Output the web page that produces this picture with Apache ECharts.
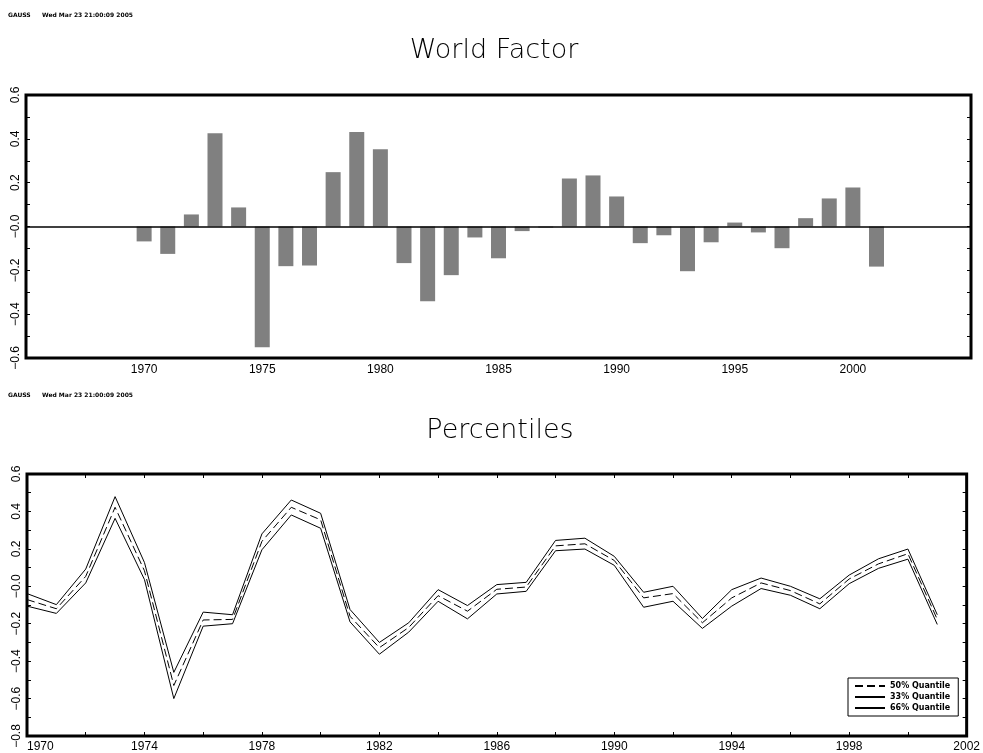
<!DOCTYPE html>
<html><head><meta charset="utf-8">
<script src="https://cdn.jsdelivr.net/npm/echarts@6/dist/echarts.min.js"></script>
<style>html,body{margin:0;padding:0;background:#fff}#c{width:983px;height:753px}</style>
</head><body><div id="c"></div>
<script>
// ---- data ----
const barYears = [1970,1971,1972,1973,1974,1975,1976,1977,1978,1979,1980,1981,1982,1983,1984,1985,
                  1986,1987,1988,1989,1990,1991,1992,1993,1994,1995,1996,1997,1998,1999,2000,2001];
const worldFactor = [-0.068,-0.125,0.055,0.426,0.087,-0.551,-0.181,-0.178,0.248,0.431,0.352,-0.167,-0.341,-0.222,-0.050,-0.145,
                     -0.021,-0.005,0.219,0.233,0.137,-0.076,-0.040,-0.204,-0.072,0.018,-0.027,-0.099,0.038,0.128,0.178,-0.183];
const pctYears = barYears;
const q66 = [-0.039,-0.098,0.092,0.479,0.127,-0.460,-0.138,-0.152,0.280,0.461,0.390,-0.124,-0.300,-0.195,-0.018,-0.103,
             0.009,0.021,0.245,0.257,0.160,-0.032,0.000,-0.172,-0.018,0.044,0.000,-0.067,0.060,0.147,0.199,-0.152];
const q50 = [-0.071,-0.120,0.053,0.422,0.083,-0.530,-0.180,-0.177,0.240,0.422,0.355,-0.160,-0.328,-0.220,-0.050,-0.133,
             -0.016,-0.004,0.216,0.227,0.138,-0.062,-0.039,-0.195,-0.062,0.018,-0.023,-0.094,0.039,0.120,0.174,-0.177];
const q33 = [-0.106,-0.145,0.018,0.363,0.036,-0.600,-0.213,-0.200,0.195,0.381,0.310,-0.190,-0.363,-0.245,-0.080,-0.174,
             -0.041,-0.027,0.190,0.199,0.112,-0.112,-0.080,-0.225,-0.106,-0.012,-0.048,-0.120,0.014,0.096,0.145,-0.204];
const seriesNames = ['50% Quantile','33% Quantile','66% Quantile'];
const titles = ['World Factor','Percentiles'];
const stamp = ['GAUSS', 'Wed Mar 23 21:00:09 2005'];

// ---- chart ----
const zip = (xs, ys) => xs.map((x, i) => [x, ys[i]]);
const fmtY = v => {
  const r = Math.round(v * 10) / 10;
  if (Math.abs(r) < 1e-9) return '\u22120.0';
  return r < 0 ? '\u2212' + Math.abs(r).toFixed(1) : r.toFixed(1);
};
const fmtX = v => String(Math.round(v));
const FONT = 'Liberation Sans';
const tickStyle = {show: true, inside: true, length: 4, lineStyle: {color: '#000', width: 1}};
const minorTick = {show: true, splitNumber: 2, length: 4, lineStyle: {color: '#000', width: 1}};
const noLine = {show: false, onZero: false};
const lblX = {color: '#000', fontSize: 12, fontFamily: FONT, margin: 6, formatter: fmtX};
const TITLE_FONT = '200 27px "DejaVu Sans"';

const chart = echarts.init(document.getElementById('c'), null, {renderer: 'canvas'});
chart.setOption({
  animation: false,
  backgroundColor: '#fff',
  graphic: [
    {type: 'text', x: 8, y: 15, style: {text: stamp[0], font: 'bold 6px "DejaVu Sans"', fill: '#000', verticalAlign: 'middle'}},
    {type: 'text', x: 42, y: 15, style: {text: stamp[1], font: 'bold 6px "DejaVu Sans"', fill: '#000', verticalAlign: 'middle'}},
    {type: 'text', x: 8, y: 395, style: {text: stamp[0], font: 'bold 6px "DejaVu Sans"', fill: '#000', verticalAlign: 'middle'}},
    {type: 'text', x: 42, y: 395, style: {text: stamp[1], font: 'bold 6px "DejaVu Sans"', fill: '#000', verticalAlign: 'middle'}},
    {type: 'text', x: 494, y: 51, style: {text: titles[0], font: TITLE_FONT, fill: '#000', align: 'center', verticalAlign: 'middle'}},
    {type: 'text', x: 500, y: 431, style: {text: titles[1], font: TITLE_FONT, fill: '#000', align: 'center', verticalAlign: 'middle'}}
  ],
  grid: [
    {left: 26, top: 95, width: 945, height: 263, show: true, borderColor: '#000', borderWidth: 3, backgroundColor: 'transparent'},
    {left: 27, top: 474, width: 943, height: 263, show: true, borderColor: '#000', borderWidth: 3, backgroundColor: 'transparent'}
  ],
  legend: {
    data: seriesNames, left: 848, top: 678, orient: 'vertical',
    itemWidth: 30, itemHeight: 8, itemGap: 3, padding: [4, 8, 4, 6],
    borderColor: '#000', borderWidth: 1, backgroundColor: '#fff',
    itemStyle: {opacity: 0},
    textStyle: {fontSize: 8, fontWeight: 'bold', fontFamily: 'DejaVu Sans', color: '#000'}
  },
  xAxis: [
    {gridIndex: 0, type: 'value', min: 1965, max: 2005, interval: 5, axisLine: noLine, axisTick: {show: false}, splitLine: {show: false},
     axisLabel: Object.assign({showMinLabel: false, showMaxLabel: false}, lblX)},
    {gridIndex: 1, type: 'value', position: 'bottom', min: 1970, max: 2002, interval: 4, axisLine: noLine, axisTick: tickStyle, minorTick: minorTick, splitLine: {show: false},
     axisLabel: Object.assign({}, lblX, {alignMinLabel: 'left', margin: 5})},
    {gridIndex: 1, type: 'value', position: 'top', min: 1970, max: 2002, interval: 4, axisLine: noLine, axisTick: tickStyle, minorTick: minorTick, splitLine: {show: false},
     axisLabel: {show: false}}
  ],
  yAxis: [
    {gridIndex: 0, type: 'value', position: 'left', min: -0.6, max: 0.6, interval: 0.2, axisLine: noLine, axisTick: tickStyle, minorTick: minorTick, splitLine: {show: false},
     axisLabel: {rotate: 90, formatter: fmtY, color: '#000', fontSize: 12, fontFamily: FONT, margin: 4}},
    {gridIndex: 0, type: 'value', position: 'right', min: -0.6, max: 0.6, interval: 0.2, axisLine: noLine, axisTick: tickStyle, minorTick: minorTick, splitLine: {show: false},
     axisLabel: {show: false}},
    {gridIndex: 1, type: 'value', position: 'left', min: -0.8, max: 0.6, interval: 0.2, axisLine: noLine, axisTick: tickStyle, minorTick: minorTick, splitLine: {show: false},
     axisLabel: {rotate: 90, formatter: fmtY, color: '#000', fontSize: 12, fontFamily: FONT, margin: 4}},
    {gridIndex: 1, type: 'value', position: 'right', min: -0.8, max: 0.6, interval: 0.2, axisLine: noLine, axisTick: tickStyle, minorTick: minorTick, splitLine: {show: false},
     axisLabel: {show: false}}
  ],
  series: [
    {type: 'bar', name: 'World Factor', xAxisIndex: 0, yAxisIndex: 0, data: zip(barYears, worldFactor), barWidth: 15,
     itemStyle: {color: '#808080'},
     markLine: {silent: true, symbol: ['none', 'none'], label: {show: false}, lineStyle: {color: '#000', width: 1.5, type: 'solid'},
                data: [{yAxis: 0}]}},
    {type: 'line', name: seriesNames[0], xAxisIndex: 1, yAxisIndex: 2, data: zip(pctYears, q50), symbol: 'none',
     lineStyle: {color: '#000', width: 1, type: [8, 4]}, itemStyle: {color: '#000'}},
    {type: 'line', name: seriesNames[1], xAxisIndex: 1, yAxisIndex: 2, data: zip(pctYears, q33), symbol: 'none',
     lineStyle: {color: '#000', width: 1}, itemStyle: {color: '#000'}},
    {type: 'line', name: seriesNames[2], xAxisIndex: 1, yAxisIndex: 2, data: zip(pctYears, q66), symbol: 'none',
     lineStyle: {color: '#000', width: 1}, itemStyle: {color: '#000'}}
  ]
});
</script></body></html>
